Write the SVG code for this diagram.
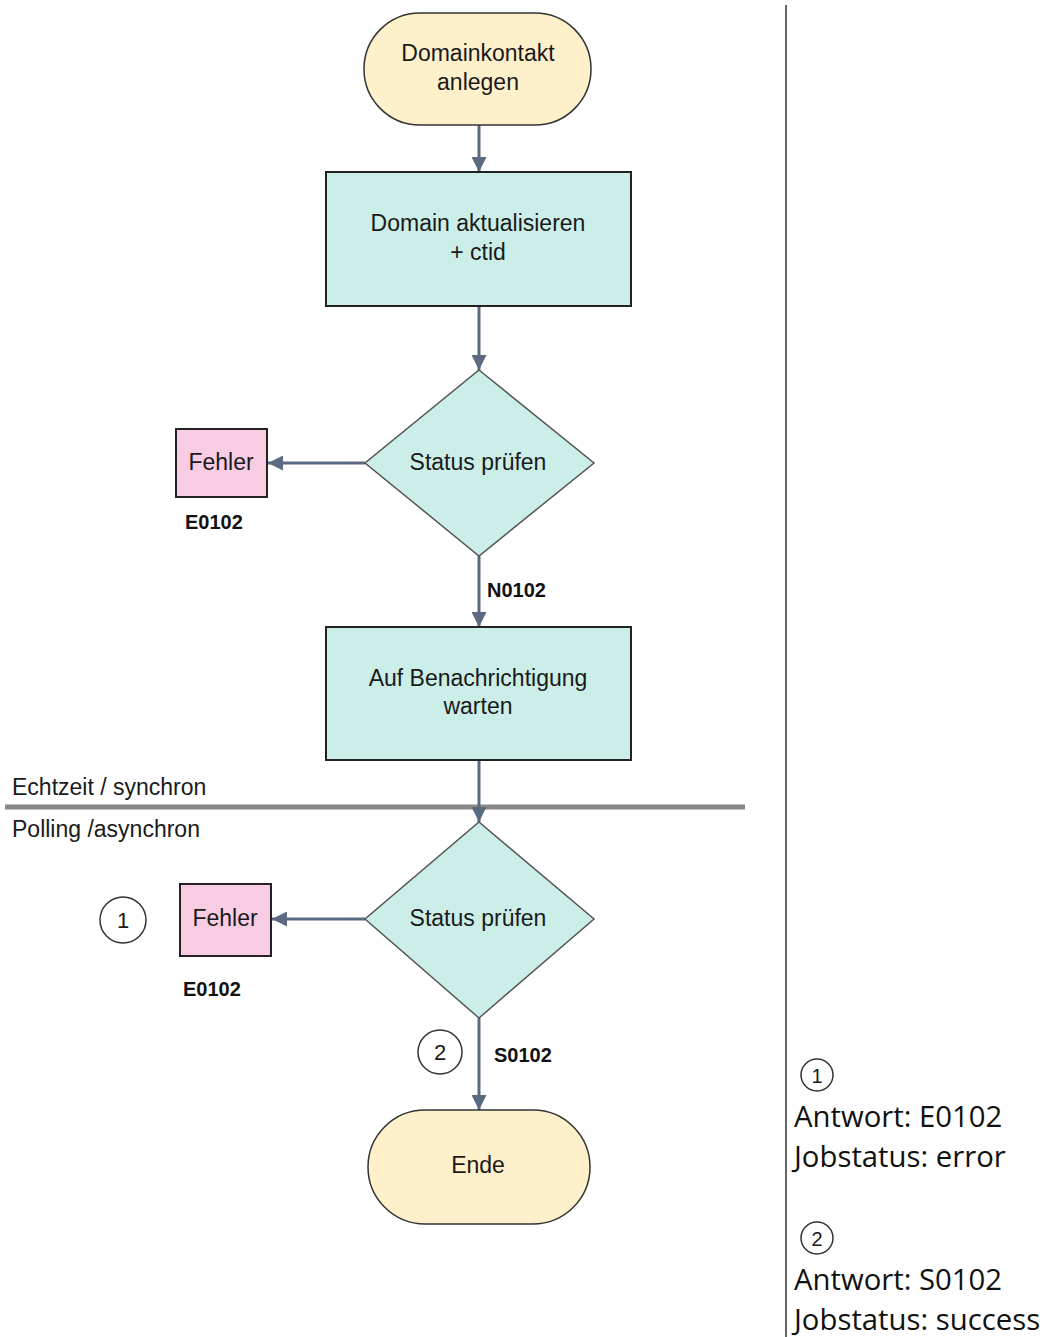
<svg xmlns="http://www.w3.org/2000/svg" width="1044" height="1337" viewBox="0 0 1044 1337">
<style>
.t{font-family:"Liberation Sans",Arial,sans-serif;font-size:23px;fill:#1a1a1a;text-anchor:middle}
.b{font-family:"Liberation Sans",Arial,sans-serif;font-size:20px;font-weight:bold;fill:#111}
.term{fill:#FFF0CC;stroke:#333;stroke-width:1.5}
.proc{fill:#CBEEE9;stroke:#222;stroke-width:2}
.dec{fill:#CBEEE9;stroke:#555;stroke-width:1.5}
.err{fill:#F8CCE3;stroke:#222;stroke-width:2}
.conn{stroke:#5B6A80;stroke-width:3;fill:none}
.circ{fill:#fff;stroke:#333;stroke-width:1.5}
.n{font-family:"Open Sans","Noto Sans",sans-serif;font-size:29.3px;fill:#111}
</style>
<defs>
<marker id="arr" viewBox="0 0 10 10" refX="10" refY="5" markerWidth="5" markerHeight="5" orient="auto" markerUnits="strokeWidth">
<path d="M0,0 L10,5 L0,10 z" fill="#5B6A80"/>
</marker>
</defs>
<rect width="1044" height="1337" fill="#fff"/>
<g id="separator">
<line x1="5" y1="807" x2="745" y2="807" stroke="#888" stroke-width="5"/>
<text x="12" y="795" class="t" style="text-anchor:start">Echtzeit / synchron</text>
<text x="12" y="837" class="t" style="text-anchor:start">Polling /asynchron</text>
</g>
<g id="divider">
<line x1="786" y1="5" x2="786" y2="1337" stroke="#666" stroke-width="2"/>
</g>
<g id="connectors">
<line class="conn" x1="479" y1="125" x2="479" y2="172" marker-end="url(#arr)"/>
<line class="conn" x1="479" y1="306" x2="479" y2="370" marker-end="url(#arr)"/>
<line class="conn" x1="365" y1="463" x2="268" y2="463" marker-end="url(#arr)"/>
<line class="conn" x1="479" y1="556" x2="479" y2="627" marker-end="url(#arr)"/>
<line class="conn" x1="479" y1="760" x2="479" y2="822" marker-end="url(#arr)"/>
<line class="conn" x1="365" y1="919" x2="272" y2="919" marker-end="url(#arr)"/>
<line class="conn" x1="479" y1="1018" x2="479" y2="1110" marker-end="url(#arr)"/>
<text x="487" y="597" class="b">N0102</text>
<text x="494" y="1062" class="b">S0102</text>
</g>
<g id="start">
<rect class="term" x="364" y="13" width="227" height="112" rx="56" ry="56"/>
<text x="478" y="61" class="t">Domainkontakt</text>
<text x="478" y="90" class="t">anlegen</text>
</g>
<g id="update">
<rect class="proc" x="326" y="172" width="305" height="134"/>
<text x="478" y="231" class="t">Domain aktualisieren</text>
<text x="478" y="260" class="t">+ ctid</text>
</g>
<g id="check1">
<polygon class="dec" points="479,370 594,463 479,556 365,463"/>
<text x="478" y="470" class="t">Status prüfen</text>
</g>
<g id="error1">
<rect class="err" x="176" y="429" width="91" height="68"/>
<text x="221" y="470" class="t">Fehler</text>
<text x="185" y="529" class="b">E0102</text>
</g>
<g id="wait">
<rect class="proc" x="326" y="627" width="305" height="133"/>
<text x="478" y="686" class="t">Auf Benachrichtigung</text>
<text x="478" y="714" class="t">warten</text>
</g>
<g id="check2">
<polygon class="dec" points="479,822 594,919 479,1018 365,919"/>
<text x="478" y="926" class="t">Status prüfen</text>
</g>
<g id="error2">
<rect class="err" x="180" y="884" width="91" height="72"/>
<text x="225" y="926" class="t">Fehler</text>
<text x="183" y="996" class="b">E0102</text>
</g>
<g id="marker1">
<circle class="circ" cx="123" cy="920" r="23"/>
<text x="123" y="928" class="t" style="font-size:22px">1</text>
</g>
<g id="marker2">
<circle class="circ" cx="440" cy="1052" r="22"/>
<text x="440" y="1060" class="t" style="font-size:22px">2</text>
</g>
<g id="end">
<rect class="term" x="368" y="1110" width="222" height="114" rx="57" ry="57"/>
<text x="478" y="1173" class="t">Ende</text>
</g>
<g id="legend">
<circle class="circ" cx="817" cy="1075" r="16"/>
<text x="817" y="1083" class="t" style="font-size:20px">1</text>
<text x="794" y="1127" class="n">Antwort: E0102</text>
<text x="794" y="1167" class="n">Jobstatus: error</text>
<circle class="circ" cx="817" cy="1238" r="16"/>
<text x="817" y="1246" class="t" style="font-size:20px">2</text>
<text x="794" y="1290" class="n">Antwort: S0102</text>
<text x="794" y="1330" class="n">Jobstatus: success</text>
</g>
</svg>
